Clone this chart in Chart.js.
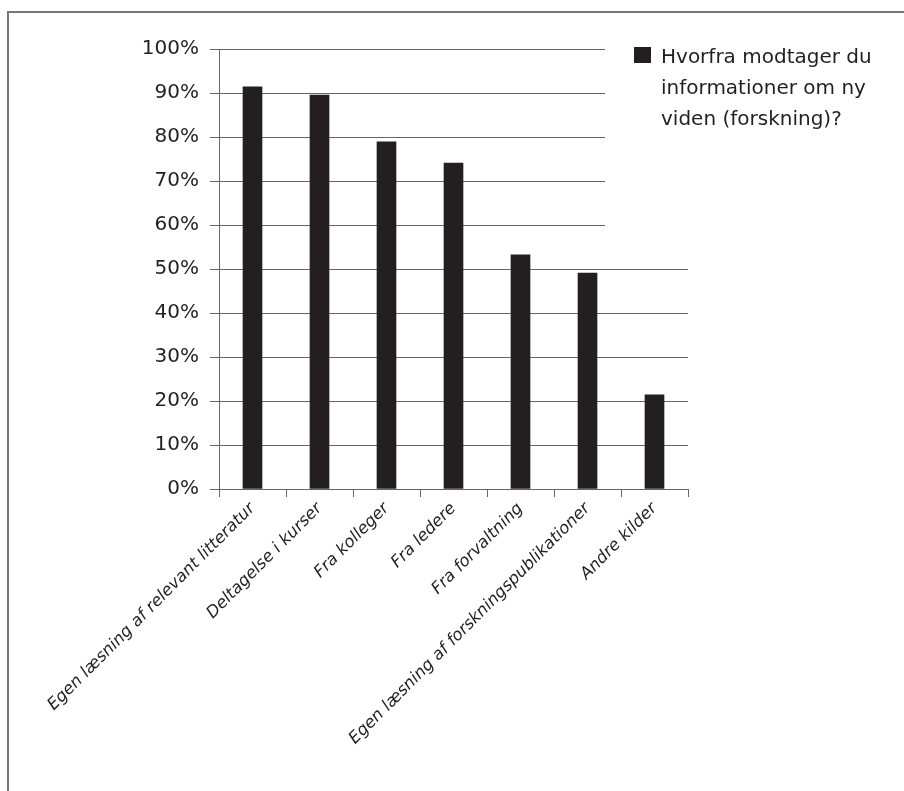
<!DOCTYPE html>
<html>
<head>
<meta charset="utf-8">
<script src="https://cdn.jsdelivr.net/npm/chart.js@4/dist/chart.umd.min.js"></script>
<style>
  html, body { margin: 0; padding: 0; background: #fff; }
  #wrap { position: relative; width: 904px; height: 791px; overflow: hidden; }
  #frame { position: absolute; left: 7px; top: 11px; width: 1000px; height: 1000px;
           border-left: 2px solid #777; border-top: 2px solid #777; }
  canvas { position: absolute; left: 0; top: 0; }
</style>
</head>
<body>
<div id="wrap">
  <div id="frame"></div>
  <canvas id="myChart" width="904" height="791"></canvas>
</div>
<script>
const categories = [
  'Egen læsning af relevant litteratur',
  'Deltagelse i kurser',
  'Fra kolleger',
  'Fra ledere',
  'Fra forvaltning',
  'Egen læsning af forskningspublikationer',
  'Andre kilder'
];
const values = [91.4, 89.5, 78.9, 74.1, 53.2, 49.1, 21.4];
const seriesLabel = 'Hvorfra modtager du informationer om ny viden (forskning)?';
const yTicks = [0, 10, 20, 30, 40, 50, 60, 70, 80, 90, 100];

const ink = '#231f20';
const font = "'DejaVu Sans', sans-serif";

// legend drawn on top of the plot, covering the gridlines like the original
const boxLegend = {
  id: 'boxLegend',
  afterDraw(chart) {
    const ctx = chart.ctx;
    ctx.save();
    ctx.fillStyle = '#fff';
    ctx.fillRect(605, 30, 299, 220);
    ctx.fillStyle = ink;
    ctx.fillRect(634, 47, 17, 16);
    ctx.font = '20px ' + font;
    ctx.textBaseline = 'alphabetic';
    // wrap the label
    const words = chart.data.datasets[0].label.split(' ');
    const lines = [];
    let cur = '';
    words.forEach(w => {
      const t = cur ? cur + ' ' + w : w;
      if (ctx.measureText(t).width > 225 && cur) { lines.push(cur); cur = w; }
      else cur = t;
    });
    lines.push(cur);
    lines.forEach((l, i) => ctx.fillText(l, 661, 63 + i * 31));
    ctx.restore();
  }
};

new Chart(document.getElementById('myChart'), {
  type: 'bar',
  data: {
    labels: categories,
    datasets: [{
      label: seriesLabel,
      data: values,
      backgroundColor: ink,
      barThickness: 19
    }]
  },
  options: {
    responsive: false,
    animation: false,
    layout: { padding: { top: 49, right: 216, left: 0, bottom: 0 } },
    plugins: { legend: { display: false }, tooltip: { enabled: false } },
    scales: {
      x: {
        grid: { drawOnChartArea: false, drawTicks: true, tickLength: 8, color: '#666' },
        border: { color: '#666' },
        ticks: {
          color: ink, maxRotation: 45, minRotation: 45, autoSkip: false, padding: 2,
          font: { family: font, size: 16.5, style: 'italic' }
        },
        afterFit(scale) { scale.height = 302; }
      },
      y: {
        min: 0, max: 100,
        afterBuildTicks(scale) { scale.ticks = yTicks.map(v => ({ value: v })); },
        grid: { color: '#666', tickLength: 9 },
        border: { color: '#666' },
        ticks: {
          color: ink, padding: 11,
          font: { family: font, size: 20 },
          callback: v => v + '%'
        },
        afterFit(scale) { scale.width = 219; }
      }
    }
  },
  plugins: [boxLegend]
});
</script>
</body>
</html>
